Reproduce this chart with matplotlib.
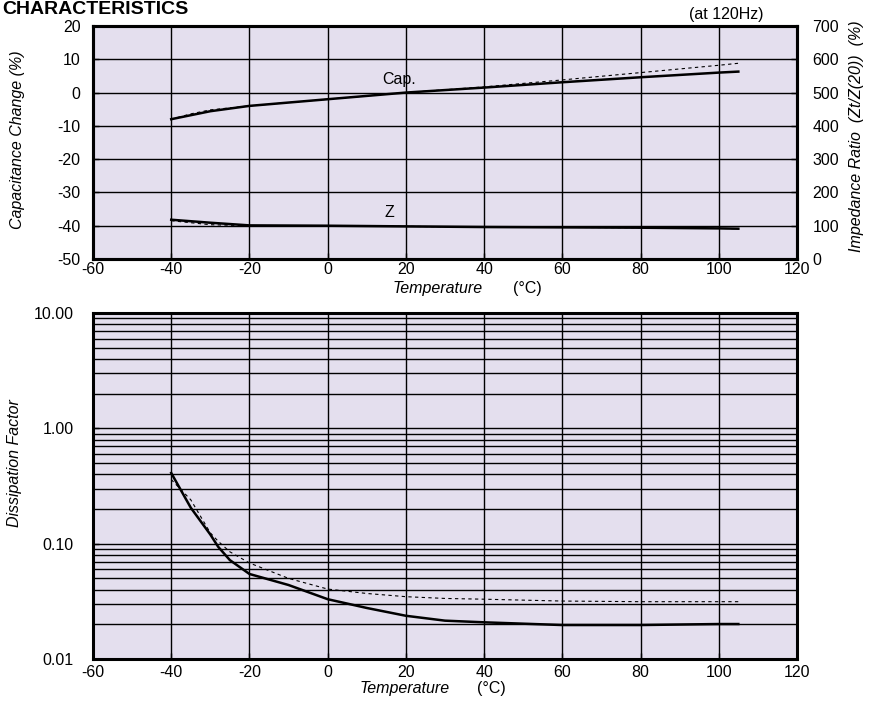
import numpy as np
import matplotlib
matplotlib.use("Agg")
import matplotlib.pyplot as plt
from matplotlib.ticker import LogLocator, FixedLocator, NullFormatter

plt.rcParams['font.family'] = ['Liberation Sans', 'DejaVu Sans']
plt.rcParams['axes.unicode_minus'] = False

# Capacitance change (%) vs temperature
cap_temp = [-40, -35, -30, -20, -10, 0, 20, 40, 60, 80, 100, 105]
cap_solid = [-8.0, -6.8, -5.6, -4.0, -3.0, -2.0, 0.0, 1.5, 3.1, 4.6, 6.0, 6.3]
cap_dash = [-8.0, -6.4, -5.2, -4.0, -3.0, -2.0, 0.0, 1.7, 3.8, 6.0, 8.2, 8.8]

# Impedance ratio (%) vs temperature
z_temp = [-40, -30, -20, 0, 20, 40, 60, 80, 100, 105]
z_solid = [118, 109, 101, 100, 98, 96, 95, 94, 92, 91]
z_dash = [115, 103, 100, 100, 98, 96, 95, 94, 92, 91]

# Dissipation factor vs temperature
df_temp = [-40, -35, -30, -28, -25, -20, -10, 0, 10, 20, 30, 40, 60, 80, 100, 105]
df_solid = [0.41, 0.205, 0.12, 0.094, 0.072, 0.0546, 0.0438, 0.033, 0.0277, 0.0237,
            0.0215, 0.0208, 0.0197, 0.0197, 0.0201, 0.0201]
df_dash = [0.36, 0.24, 0.124, 0.105, 0.085, 0.068, 0.050, 0.0404, 0.037, 0.0347,
           0.0335, 0.0330, 0.0318, 0.0314, 0.0314, 0.0314]

x_ticks = list(range(-60, 121, 20))
cap_ticks = list(range(-50, 21, 10))
z_ticks = list(range(0, 701, 100))
df_ticks = [0.01, 0.1, 1, 10]
df_labels = ["0.01", "0.10", "1.00", "10.00"]

bg = '#e4dfee'
fs = 11.5

fig = plt.figure(figsize=(8.73, 7.01), dpi=100)
W, H = 873, 701


def add_ax(x0, y0, x1, y1):
    return fig.add_axes([x0 / W, 1 - y1 / H, (x1 - x0) / W, (y1 - y0) / H])


def ftext(x, y, s, **kw):
    return fig.text(x / W, 1 - y / H, s, fontsize=fs, ha='center', va='center', **kw)


def style(ax, ypad):
    ax.set_facecolor(bg)
    for s in ax.spines.values():
        s.set_linewidth(2.2)
        s.set_color('black')
    ax.tick_params(direction='in', length=4, width=1, labelsize=fs)
    ax.tick_params(axis='x', pad=2)
    ax.tick_params(axis='y', pad=ypad)
    ax.set_xlim(-60, 120)
    ax.set_xticks(x_ticks)


# --- top chart ---
ax1 = add_ax(93, 26, 797, 259)
style(ax1, 9)
ax1.set_ylim(-50, 20)
ax1.set_yticks(cap_ticks)
ax1.grid(True, color='black', linewidth=1)
ax1.set_axisbelow(True)
ax1.plot(cap_temp, cap_dash, color='black', lw=0.8, ls=(0, (3, 3)))
ax1.plot(cap_temp, cap_solid, color='black', lw=1.8)
ax1.text(14, 2.5, "Cap.", fontsize=fs)
ax1.text(14.5, -37.5, "Z", fontsize=fs)

ax2 = ax1.twinx()
ax2.set_ylim(0, 700)
ax2.set_yticks(z_ticks)
ax2.tick_params(direction='in', length=4, width=1, labelsize=fs, pad=11)
for s in ax2.spines.values():
    s.set_linewidth(2.2)
ax2.plot(z_temp, z_dash, color='black', lw=0.8, ls=(0, (3, 3)))
ax2.plot(z_temp, z_solid, color='black', lw=1.8)

ftext(18, 140, "Capacitance Change (%)", style='italic', rotation=90)
ftext(857, 136, "Impedance Ratio  (Zt/Z(20))  (%)", style='italic', rotation=90)
ftext(438, 288, "Temperature", style='italic')
ftext(527, 288, "(°C)")
ftext(726, 14, "(at 120Hz)")
fig.text(2 / W, 1 - 14 / H, "CHARACTERISTICS", fontsize=14, fontweight='bold',
         ha='left', va='baseline')

# --- bottom chart ---
ax3 = add_ax(93, 313, 797, 659)
style(ax3, 14)
ax3.set_yscale('log')
ax3.set_ylim(0.01, 10)
ax3.yaxis.set_major_locator(FixedLocator(df_ticks))
ax3.set_yticklabels(df_labels)
ax3.yaxis.set_minor_locator(LogLocator(base=10, subs=np.arange(2, 10)))
ax3.yaxis.set_minor_formatter(NullFormatter())
ax3.tick_params(which='minor', length=0)
ax3.tick_params(axis='x', pad=4)
ax3.grid(True, which='both', color='black', linewidth=1)
ax3.set_axisbelow(True)
ax3.plot(df_temp, df_dash, color='black', lw=0.8, ls=(0, (3, 3)))
ax3.plot(df_temp, df_solid, color='black', lw=1.8)

ftext(15, 463, "Dissipation Factor", style='italic', rotation=90)
ftext(405, 688, "Temperature", style='italic')
ftext(491, 688, "(°C)")

fig.savefig("out.png", dpi=100)
